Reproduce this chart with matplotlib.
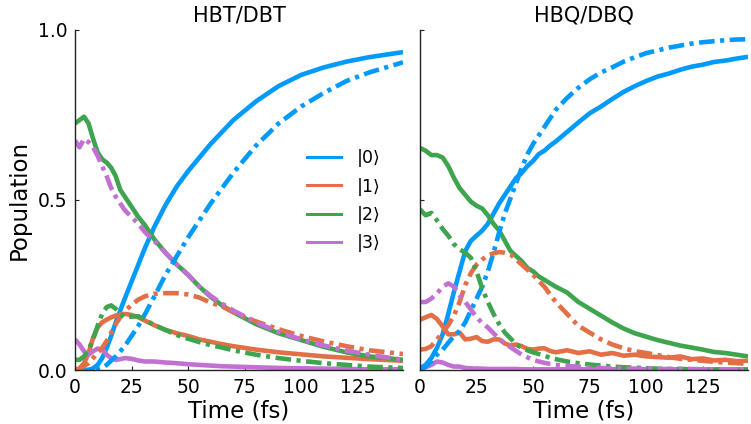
import numpy as np
import matplotlib
matplotlib.use("Agg")
import matplotlib.pyplot as plt
from matplotlib.lines import Line2D

plt.rcParams['font.family'] = ['DejaVu Sans']

# ---------------- data ----------------
states = ["|0⟩", "|1⟩", "|2⟩", "|3⟩"]
colors = ["#009AFA", "#E36F47", "#3EA44E", "#C271D2"]

t_hbt = [0, 2, 4, 6, 8, 10, 12, 14, 16, 18, 20, 22, 25, 28, 31, 35, 40, 45, 50,
         55, 60, 65, 70, 80, 90, 100, 110, 120, 130, 145]

# HBT (solid)
hbt_p0 = [0, 0, 0, 0, .005, .015, .035, .065, .10, .14, .175, .21, .26, .31, .36,
          .42, .485, .54, .585, .625, .665, .70, .735, .79, .835, .868, .89, .907, .92, .935]
hbt_p1 = [0, .005, .02, .05, .095, .125, .14, .148, .155, .16, .163, .165, .162, .155,
          .145, .132, .118, .108, .10, .09, .083, .076, .07, .06, .052, .046, .04, .036, .032, .027]
hbt_p2 = [.725, .735, .745, .725, .68, .64, .62, .61, .595, .57, .53, .51, .48, .45, .425,
          .385, .345, .31, .28, .245, .215, .19, .17, .135, .108, .088, .068, .052, .04, .03]
hbt_p3 = [.09, .075, .055, .045, .055, .063, .06, .045, .035, .03, .032, .035, .033, .028,
          .025, .025, .022, .02, .017, .015, .013, .011, .01, .008, .006, .005, .004, .003, .002, .002]
# DBT (dash-dot)
dbt_p0 = [0, 0, 0, 0, 0, .002, .006, .015, .028, .04, .055, .07, .10, .13, .165, .215,
          .28, .335, .39, .44, .49, .535, .58, .66, .725, .775, .815, .85, .875, .905]
dbt_p1 = [0, .003, .012, .02, .035, .05, .065, .085, .11, .135, .155, .172, .192, .207,
          .217, .224, .226, .226, .222, .213, .198, .187, .17, .143, .12, .10, .084, .07, .058, .047]
dbt_p2 = [.03, .03, .04, .06, .09, .13, .165, .185, .19, .18, .165, .155, .157, .158, .148,
          .132, .118, .103, .092, .082, .073, .066, .058, .045, .035, .027, .02, .015, .01, .006]
dbt_p3 = [.675, .655, .68, .67, .655, .63, .60, .57, .535, .51, .49, .47, .45, .43, .405,
          .38, .345, .31, .28, .245, .218, .195, .175, .14, .112, .09, .072, .057, .045, .03]

t_hbq = [0, 2.5, 5, 7.5, 10, 12.5, 15, 17.5, 20, 22.5, 25, 27.5, 30, 32.5, 35, 37.5,
         40, 42.5, 45, 47.5, 50, 52.5, 55, 57.5, 60, 65, 70, 75, 80, 85, 90, 95, 100,
         105, 110, 115, 120, 125, 130, 135, 140, 145]

# HBQ (solid)
hbq_p0 = [.005, .015, .035, .065, .105, .165, .23, .29, .35, .38, .395, .41, .43, .46,
          .49, .515, .54, .565, .58, .60, .615, .635, .645, .66, .672, .70, .728, .755,
          .775, .797, .818, .835, .85, .863, .872, .883, .892, .898, .906, .91, .916, .921]
hbq_p1 = [.148, .155, .162, .15, .128, .105, .105, .11, .09, .092, .097, .085, .083, .09,
          .09, .078, .072, .075, .07, .062, .06, .063, .064, .056, .052, .058, .05, .055,
          .045, .05, .042, .045, .04, .038, .036, .04, .032, .034, .028, .03, .026, .027]
hbq_p2 = [.653, .645, .632, .632, .625, .60, .565, .535, .515, .495, .483, .475, .455, .43,
          .41, .38, .35, .335, .32, .30, .29, .275, .265, .255, .245, .228, .20, .18, .16,
          .14, .122, .108, .098, .088, .08, .072, .066, .06, .053, .05, .045, .04]
hbq_p3 = [.005, .008, .015, .025, .022, .015, .01, .01, .006, .005, .004, .004, .003, .003,
          .003, .003, .003, .003, .002, .002, .002, .002, .002, .002, .002, .002, .002, .002,
          .002, .002, .002, .002, .002, .002, .002, .002, .002, .002, .002, .002, .002, .002]
# DBQ (dash-dot)
dbq_p0 = [0, .01, .025, .045, .06, .08, .10, .115, .14, .175, .21, .245, .29, .345, .405,
          .46, .505, .55, .595, .635, .665, .69, .715, .74, .765, .80, .83, .855, .875,
          .89, .907, .92, .932, .94, .948, .954, .96, .964, .967, .97, .972, .973]
dbq_p1 = [.06, .062, .07, .09, .11, .132, .16, .20, .25, .285, .31, .325, .337, .343, .347,
          .345, .34, .325, .31, .295, .28, .262, .245, .222, .20, .165, .13, .11, .09, .075,
          .064, .055, .05, .044, .038, .033, .03, .027, .024, .022, .02, .018]
dbq_p2 = [.472, .455, .462, .44, .415, .395, .37, .355, .345, .33, .29, .24, .20, .165, .135,
          .11, .093, .075, .065, .058, .052, .047, .042, .036, .032, .025, .02, .016, .013,
          .01, .008, .007, .005, .004, .003, .003, .002, .002, .001, .001, .001, .001]
dbq_p3 = [.20, .20, .21, .225, .245, .255, .245, .22, .20, .178, .155, .138, .125, .108, .092,
          .078, .067, .056, .045, .037, .03, .025, .021, .018, .015, .012, .01, .008, .006,
          .005, .004, .004, .004, .003, .003, .003, .003, .002, .002, .002, .002, .002]

panels = [
    ("HBT/DBT", t_hbt, [hbt_p0, hbt_p1, hbt_p2, hbt_p3], [dbt_p0, dbt_p1, dbt_p2, dbt_p3]),
    ("HBQ/DBQ", t_hbq, [hbq_p0, hbq_p1, hbq_p2, hbq_p3], [dbq_p0, dbq_p1, dbq_p2, dbq_p3]),
]
xticks = [0, 25, 50, 75, 100, 125]
yticks = [0.0, 0.5, 1.0]
ytick_labels = ["0.0", "0.5", "1.0"]

# ---------------- figure ----------------
W, H = 751, 424
fig = plt.figure(figsize=(W / 100, H / 100), dpi=100)
ax_w = 328 / W
ax_h = 340 / H
ax_b = (H - 370) / H
lefts = [75 / W, 420 / W]

dashdot = (0, (3.4, 1.2, 0.9, 1.2))
lw = 3.3

for i, (title, t, solids, dashes) in enumerate(panels):
    ax = fig.add_axes([lefts[i], ax_b, ax_w, ax_h])
    for c, y in zip(colors, solids):
        ax.plot(t, y, color=c, lw=lw, solid_capstyle='butt', solid_joinstyle='round')
    for c, y in zip(colors, dashes):
        ax.plot(t, y, color=c, lw=lw, linestyle=dashdot, dash_capstyle='butt')
    ax.set_xlim(0, 145)
    ax.set_ylim(0, 1)
    ax.set_xticks(xticks)
    ax.set_yticks(yticks)
    if i == 0:
        ax.set_yticklabels(ytick_labels)
        ax.set_ylabel("Population", fontsize=16.5, labelpad=5)
    else:
        ax.set_yticklabels([])
    ax.set_xlabel("Time (fs)", fontsize=16.5, labelpad=2)
    ax.set_title(title, fontsize=15, pad=6)
    for s in ["top", "right"]:
        ax.spines[s].set_visible(False)
    for s in ["left", "bottom"]:
        ax.spines[s].set_linewidth(1.0)
        ax.spines[s].set_color("#222222")
    ax.tick_params(direction='in', length=3, width=0.8, labelsize=13.5, pad=5.5,
                   color="#222222")
    if i == 0:
        handles = [Line2D([], [], color=c, lw=2.2) for c in colors]
        ax.legend(handles, states, frameon=False, loc='upper left',
                  bbox_to_anchor=(0.685, 0.67), fontsize=12.5, handlelength=2.0,
                  handletextpad=0.9, labelspacing=0.6, borderaxespad=0)

fig.savefig("out.png", dpi=100)
